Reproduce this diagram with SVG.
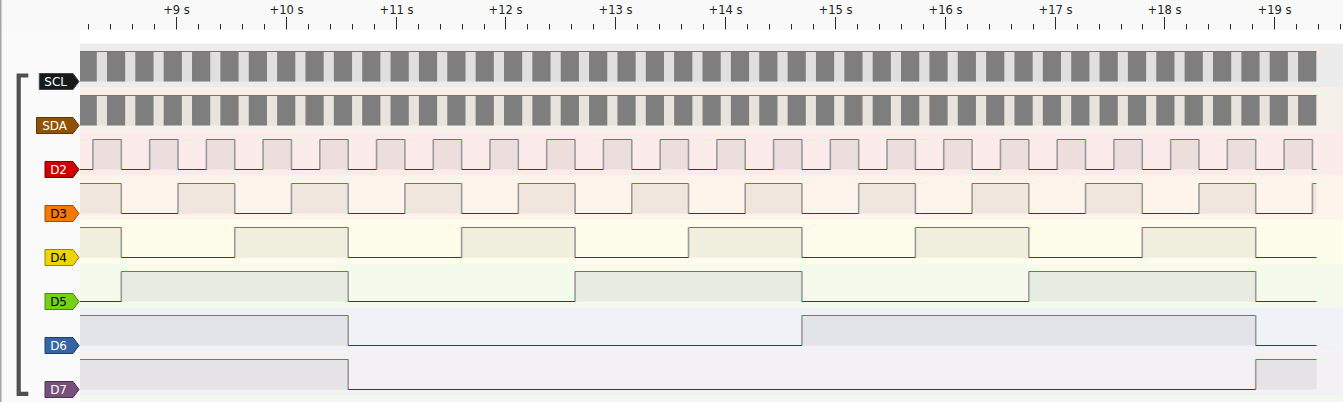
<svg xmlns="http://www.w3.org/2000/svg" width="1343" height="402" viewBox="0 0 1343 402">
<style>
.tick{stroke:#2b2b2b;stroke-width:1;fill:none}
.rtxt{font-family:"DejaVu Sans","Liberation Sans",sans-serif;font-size:11.5px;fill:#222;text-anchor:middle}
.ltxt{font-family:"DejaVu Sans","Liberation Sans",sans-serif;font-size:12px;text-anchor:end}
.hi{fill:none;stroke:#12b812;stroke-width:1.1}
.lo{fill:none;stroke:#c00000;stroke-width:1.1}
.edge{fill:none;stroke:#9a9a9a;stroke-width:1.6}
.under{fill:#000;fill-opacity:.055}
.dense{fill:#7e7e7e}
.lbl{stroke-width:1}
</style>
<defs>
<g id="i2ctrace">
<rect class="under" x="80" y="51.3" width="1236.5" height="30"/>
<path class="dense" d="M80,51.8h16.8v29.5h-16.8zM106.96,51.8h18.2v29.5h-18.2zm28.36,0h18.2v29.5h-18.2zm28.36,0h18.2v29.5h-18.2zm28.36,0h18.2v29.5h-18.2zm28.36,0h18.2v29.5h-18.2zm28.36,0h18.2v29.5h-18.2zm28.36,0h18.2v29.5h-18.2zm28.36,0h18.2v29.5h-18.2zm28.36,0h18.2v29.5h-18.2zm28.36,0h18.2v29.5h-18.2zm28.36,0h18.2v29.5h-18.2zm28.36,0h18.2v29.5h-18.2zm28.36,0h18.2v29.5h-18.2zm28.36,0h18.2v29.5h-18.2zm28.36,0h18.2v29.5h-18.2zm28.36,0h18.2v29.5h-18.2zm28.36,0h18.2v29.5h-18.2zm28.36,0h18.2v29.5h-18.2zm28.36,0h18.2v29.5h-18.2zm28.36,0h18.2v29.5h-18.2zm28.36,0h18.2v29.5h-18.2zm28.36,0h18.2v29.5h-18.2zm28.36,0h18.2v29.5h-18.2zm28.36,0h18.2v29.5h-18.2zm28.36,0h18.2v29.5h-18.2zm28.36,0h18.2v29.5h-18.2zm28.36,0h18.2v29.5h-18.2zm28.36,0h18.2v29.5h-18.2zm28.36,0h18.2v29.5h-18.2zm28.36,0h18.2v29.5h-18.2zm28.36,0h18.2v29.5h-18.2zm28.36,0h18.2v29.5h-18.2zm28.36,0h18.2v29.5h-18.2zm28.36,0h18.2v29.5h-18.2zm28.36,0h18.2v29.5h-18.2zm28.36,0h18.2v29.5h-18.2zm28.36,0h18.2v29.5h-18.2zm28.36,0h18.2v29.5h-18.2zm28.36,0h18.2v29.5h-18.2zm28.36,0h18.2v29.5h-18.2zm28.36,0h18.2v29.5h-18.2zm28.36,0h18.2v29.5h-18.2zM1298.08,51.8h18.2v29.5h-18.2z"/>
<path class="hi" d="M80,51.3H1316.5"/>
</g>
</defs>

<!-- backgrounds -->
<rect x="0" y="0" width="1343" height="402" fill="#fafafa"/>
<rect x="0" y="0" width="1343" height="30" fill="#f9f9f9"/>
<rect x="80" y="30" width="1263" height="13.7" fill="#ffffff"/>
<rect x="80" y="43.7" width="1263" height="44" fill="#ececec"/>
<rect x="80" y="87.7" width="1263" height="44" fill="#f5f1ea"/>
<rect x="80" y="131.7" width="1263" height="44" fill="#fbebeb"/>
<rect x="80" y="175.7" width="1263" height="44" fill="#fef4eb"/>
<rect x="80" y="219.7" width="1263" height="44" fill="#fefdeb"/>
<rect x="80" y="263.7" width="1263" height="44" fill="#f4faec"/>
<rect x="80" y="307.7" width="1263" height="44" fill="#eff3f8"/>
<rect x="80" y="351.7" width="1263" height="44" fill="#f3f1f4"/>
<rect x="80" y="395.7" width="1263" height="6.3" fill="#f1f8ee"/>
<line x1="0.75" y1="0" x2="0.75" y2="402" stroke="#a4a4a4" stroke-width="1.5"/>

<!-- ruler -->
<g id="ruler">
<path class="tick" d="M176.5,17V29.5M286.5,17V29.5M396.5,17V29.5M505.5,17V29.5M615.5,17V29.5M725.5,17V29.5M835.5,17V29.5M945.5,17V29.5M1055.5,17V29.5M1164.5,17V29.5M1274.5,17V29.5"/>
<path class="tick" d="M88.5,24V29.5M110.5,24V29.5M132.5,24V29.5M154.5,24V29.5M198.5,24V29.5M220.5,24V29.5M242.5,24V29.5M264.5,24V29.5M308.5,24V29.5M330.5,24V29.5M352.5,24V29.5M374.5,24V29.5M418.5,24V29.5M440.5,24V29.5M462.5,24V29.5M484.5,24V29.5M527.5,24V29.5M549.5,24V29.5M571.5,24V29.5M593.5,24V29.5M637.5,24V29.5M659.5,24V29.5M681.5,24V29.5M703.5,24V29.5M747.5,24V29.5M769.5,24V29.5M791.5,24V29.5M813.5,24V29.5M857.5,24V29.5M879.5,24V29.5M901.5,24V29.5M923.5,24V29.5M967.5,24V29.5M989.5,24V29.5M1011.5,24V29.5M1033.5,24V29.5M1077.5,24V29.5M1099.5,24V29.5M1121.5,24V29.5M1142.5,24V29.5M1186.5,24V29.5M1208.5,24V29.5M1230.5,24V29.5M1252.5,24V29.5M1296.5,24V29.5M1318.5,24V29.5M1340.5,24V29.5"/>
<text class="rtxt" x="176.5" y="14">+9 s</text>
<text class="rtxt" x="286.5" y="14">+10 s</text>
<text class="rtxt" x="396.5" y="14">+11 s</text>
<text class="rtxt" x="505.5" y="14">+12 s</text>
<text class="rtxt" x="615.5" y="14">+13 s</text>
<text class="rtxt" x="725.5" y="14">+14 s</text>
<text class="rtxt" x="835.5" y="14">+15 s</text>
<text class="rtxt" x="945.5" y="14">+16 s</text>
<text class="rtxt" x="1055.5" y="14">+17 s</text>
<text class="rtxt" x="1164.5" y="14">+18 s</text>
<text class="rtxt" x="1274.5" y="14">+19 s</text>
</g>

<!-- group bracket -->
<path id="bracket" d="M28.3,75.5H18.7V393.8H28.3" fill="none" stroke="#505050" stroke-width="4.2"/>

<g transform="translate(0,0.2)">
<!-- SCL -->
<g id="SCL">
<use href="#i2ctrace"/>
<g transform="translate(0,81.3)">
<path class="lbl" d="M39.3,-8H73L79,0L73,8H39.3Z" fill="#171a1b" stroke="#444"/>
<text class="ltxt" x="67" y="4.6" fill="#fff">SCL</text>
</g>
</g>

<!-- SDA -->
<g id="SDA">
<use href="#i2ctrace" transform="translate(0,44)"/>
<g transform="translate(0,125.3)">
<path class="lbl" d="M36.5,-8H73L79,0L73,8H36.5Z" fill="#8f5202" stroke="#5e3600"/>
<text class="ltxt" x="67" y="4.6" fill="#fff">SDA</text>
</g>
</g>

<!-- D2 -->
<g id="D2">
<path class="under" d="M92.94,139.3h28.36v30h-28.36zm56.72,0h28.36v30h-28.36zm56.72,0h28.36v30h-28.36zm56.72,0h28.36v30h-28.36zm56.72,0h28.36v30h-28.36zm56.72,0h28.36v30h-28.36zm56.72,0h28.36v30h-28.36zm56.72,0h28.36v30h-28.36zm56.72,0h28.36v30h-28.36zm56.72,0h28.36v30h-28.36zm56.72,0h28.36v30h-28.36zm56.72,0h28.36v30h-28.36zm56.72,0h28.36v30h-28.36zm56.72,0h28.36v30h-28.36zm56.72,0h28.36v30h-28.36zm56.72,0h28.36v30h-28.36zm56.72,0h28.36v30h-28.36zm56.72,0h28.36v30h-28.36zm56.72,0h28.36v30h-28.36zm56.72,0h28.36v30h-28.36zm56.72,0h28.36v30h-28.36zm56.72,0h28.36v30h-28.36z"/>
<path class="edge" d="M92.94,139.3v30m28.36,-30v30m28.36,-30v30m28.36,-30v30m28.36,-30v30m28.36,-30v30m28.36,-30v30m28.36,-30v30m28.36,-30v30m28.36,-30v30m28.36,-30v30m28.36,-30v30m28.36,-30v30m28.36,-30v30m28.36,-30v30m28.36,-30v30m28.36,-30v30m28.36,-30v30m28.36,-30v30m28.36,-30v30m28.36,-30v30m28.36,-30v30m28.36,-30v30m28.36,-30v30m28.36,-30v30m28.36,-30v30m28.36,-30v30m28.36,-30v30m28.36,-30v30m28.36,-30v30m28.36,-30v30m28.36,-30v30m28.36,-30v30m28.36,-30v30m28.36,-30v30m28.36,-30v30m28.36,-30v30m28.36,-30v30m28.36,-30v30m28.36,-30v30m28.36,-30v30m28.36,-30v30m28.36,-30v30m28.36,-30v30"/>
<path class="hi" d="M92.94,139.3h28.36m28.36,0h28.36m28.36,0h28.36m28.36,0h28.36m28.36,0h28.36m28.36,0h28.36m28.36,0h28.36m28.36,0h28.36m28.36,0h28.36m28.36,0h28.36m28.36,0h28.36m28.36,0h28.36m28.36,0h28.36m28.36,0h28.36m28.36,0h28.36m28.36,0h28.36m28.36,0h28.36m28.36,0h28.36m28.36,0h28.36m28.36,0h28.36m28.36,0h28.36m28.36,0h28.36"/>
<path class="lo" d="M80,169.3H92.94M121.3,169.3h28.36m28.36,0h28.36m28.36,0h28.36m28.36,0h28.36m28.36,0h28.36m28.36,0h28.36m28.36,0h28.36m28.36,0h28.36m28.36,0h28.36m28.36,0h28.36m28.36,0h28.36m28.36,0h28.36m28.36,0h28.36m28.36,0h28.36m28.36,0h28.36m28.36,0h28.36m28.36,0h28.36m28.36,0h28.36m28.36,0h28.36m28.36,0h28.36m28.36,0h28.36M1312.42,169.3H1316.5"/>
<g transform="translate(0,169.3)">
<path class="lbl" d="M45,-8H73L79,0L73,8H45Z" fill="#cc0000" stroke="#7a0000"/>
<text class="ltxt" x="67" y="4.6" fill="#fff">D2</text>
</g>
</g>

<!-- D3 -->
<g id="D3">
<path class="under" d="M80,183.3H121.3v30H80zM178.02,183.3h56.72v30h-56.72zm113.44,0h56.72v30h-56.72zm113.44,0h56.72v30h-56.72zm113.44,0h56.72v30h-56.72zm113.44,0h56.72v30h-56.72zm113.44,0h56.72v30h-56.72zm113.44,0h56.72v30h-56.72zm113.44,0h56.72v30h-56.72zm113.44,0h56.72v30h-56.72zm113.44,0h56.72v30h-56.72zM1312.42,183.3H1316.5v30H1312.42z"/>
<path class="edge" d="M121.3,183.3v30m56.72,-30v30m56.72,-30v30m56.72,-30v30m56.72,-30v30m56.72,-30v30m56.72,-30v30m56.72,-30v30m56.72,-30v30m56.72,-30v30m56.72,-30v30m56.72,-30v30m56.72,-30v30m56.72,-30v30m56.72,-30v30m56.72,-30v30m56.72,-30v30m56.72,-30v30m56.72,-30v30m56.72,-30v30m56.72,-30v30m56.72,-30v30"/>
<path class="hi" d="M80,183.3H121.3M178.02,183.3h56.72m56.72,0h56.72m56.72,0h56.72m56.72,0h56.72m56.72,0h56.72m56.72,0h56.72m56.72,0h56.72m56.72,0h56.72m56.72,0h56.72m56.72,0h56.72M1312.42,183.3H1316.5"/>
<path class="lo" d="M121.3,213.3h56.72m56.72,0h56.72m56.72,0h56.72m56.72,0h56.72m56.72,0h56.72m56.72,0h56.72m56.72,0h56.72m56.72,0h56.72m56.72,0h56.72m56.72,0h56.72m56.72,0h56.72"/>
<g transform="translate(0,213.3)">
<path class="lbl" d="M45,-8H73L79,0L73,8H45Z" fill="#f57900" stroke="#a04f00"/>
<text class="ltxt" x="67" y="4.6" fill="#000">D3</text>
</g>
</g>

<!-- D4 -->
<g id="D4">
<path class="under" d="M80,227.3H121.3v30H80zM234.74,227.3h113.44v30h-113.44zm226.88,0h113.44v30h-113.44zm226.88,0h113.44v30h-113.44zm226.88,0h113.44v30h-113.44zm226.88,0h113.44v30h-113.44z"/>
<path class="edge" d="M121.3,227.3v30m113.44,-30v30m113.44,-30v30m113.44,-30v30m113.44,-30v30m113.44,-30v30m113.44,-30v30m113.44,-30v30m113.44,-30v30m113.44,-30v30m113.44,-30v30"/>
<path class="hi" d="M80,227.3H121.3M234.74,227.3h113.44m113.44,0h113.44m113.44,0h113.44m113.44,0h113.44m113.44,0h113.44"/>
<path class="lo" d="M121.3,257.3h113.44m113.44,0h113.44m113.44,0h113.44m113.44,0h113.44m113.44,0h113.44M1255.7,257.3H1316.5"/>
<g transform="translate(0,257.3)">
<path class="lbl" d="M45,-8H73L79,0L73,8H45Z" fill="#edd400" stroke="#968600"/>
<text class="ltxt" x="67" y="4.6" fill="#000">D4</text>
</g>
</g>

<!-- D5 -->
<g id="D5">
<path class="under" d="M121.3,271.3h226.88v30h-226.88zm453.76,0h226.88v30h-226.88zm453.76,0h226.88v30h-226.88z"/>
<path class="edge" d="M121.3,271.3v30m226.88,-30v30m226.88,-30v30m226.88,-30v30m226.88,-30v30m226.88,-30v30"/>
<path class="hi" d="M121.3,271.3h226.88m226.88,0h226.88m226.88,0h226.88"/>
<path class="lo" d="M80,301.3H121.3M348.18,301.3h226.88m226.88,0h226.88M1255.7,301.3H1316.5"/>
<g transform="translate(0,301.3)">
<path class="lbl" d="M45,-8H73L79,0L73,8H45Z" fill="#73d216" stroke="#4a880e"/>
<text class="ltxt" x="67" y="4.6" fill="#000">D5</text>
</g>
</g>

<!-- D6 -->
<g id="D6">
<path class="under" d="M80,315.3H348.18v30H80zM801.94,315.3H1255.7v30H801.94z"/>
<path class="edge" d="M348.18,315.3v30M801.94,315.3v30M1255.7,315.3v30"/>
<path class="hi" d="M80,315.3H348.18M801.94,315.3H1255.7"/>
<path class="lo" d="M348.18,345.3H801.94M1255.7,345.3H1316.5"/>
<g transform="translate(0,345.3)">
<path class="lbl" d="M45,-8H73L79,0L73,8H45Z" fill="#3465a4" stroke="#1f3f6b"/>
<text class="ltxt" x="67" y="4.6" fill="#fff">D6</text>
</g>
</g>

<!-- D7 -->
<g id="D7">
<path class="under" d="M80,359.3H348.18v30H80zM1255.7,359.3H1316.5v30H1255.7z"/>
<path class="edge" d="M348.18,359.3v30M1255.7,359.3v30"/>
<path class="hi" d="M80,359.3H348.18M1255.7,359.3H1316.5"/>
<path class="lo" d="M348.18,389.3H1255.7"/>
<g transform="translate(0,389.3)">
<path class="lbl" d="M45,-8H73L79,0L73,8H45Z" fill="#75507b" stroke="#4a304e"/>
<text class="ltxt" x="67" y="4.6" fill="#fff">D7</text>
</g>
</g>
</g>

<g id="connectors"/>
</svg>
